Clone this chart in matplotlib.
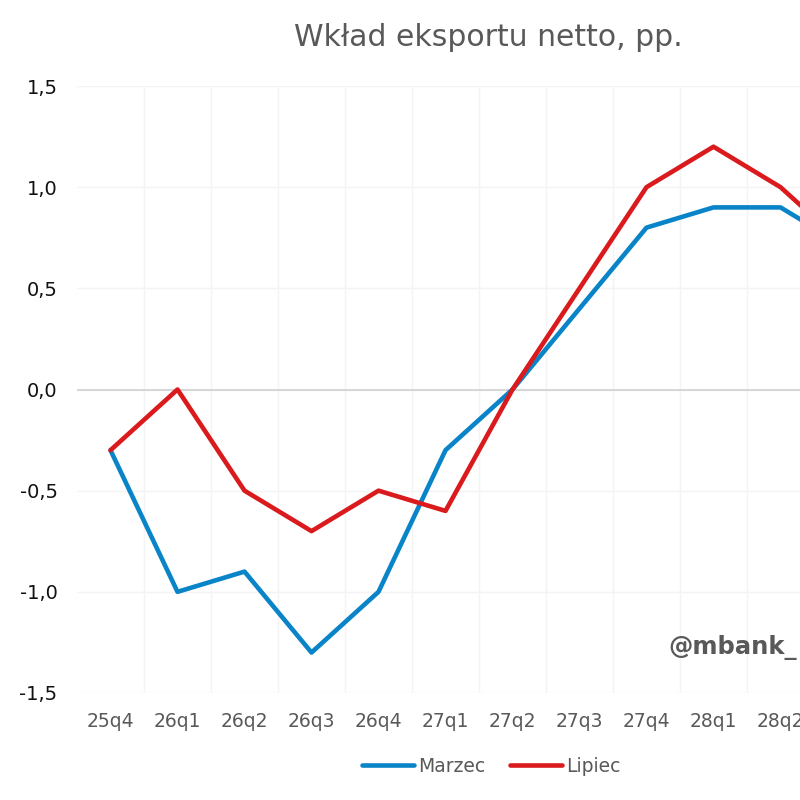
import matplotlib.pyplot as plt

kwartaly = ['25q4', '26q1', '26q2', '26q3', '26q4', '27q1', '27q2',
            '27q3', '27q4', '28q1', '28q2', '28q3']
marzec = [-0.3, -1.0, -0.9, -1.3, -1.0, -0.3, 0.0, 0.4, 0.8, 0.9, 0.9, 0.7]
lipiec = [-0.3, 0.0, -0.5, -0.7, -0.5, -0.6, 0.0, 0.5, 1.0, 1.2, 1.0, 0.7]
y_ticks = [-1.5, -1.0, -0.5, 0.0, 0.5, 1.0, 1.5]

szary = '#595959'

fig = plt.figure(figsize=(8, 8), dpi=100)
# wykres jest przyciety z prawej strony, os wychodzi poza figure
ax = fig.add_axes([77 / 800, 1 - 693 / 800, 804 / 800, 607 / 800])

x = list(range(len(kwartaly)))
ax.plot(x, marzec, color='#0a84c8', lw=3.3, label='Marzec', solid_capstyle='round')
ax.plot(x, lipiec, color='#da1a1c', lw=3.3, label='Lipiec', solid_capstyle='round')

ax.set_xlim(-0.5, len(kwartaly) - 0.5)
ax.set_ylim(-1.5, 1.5)
ax.set_yticks(y_ticks)
ax.set_yticklabels([f'{v:.1f}'.replace('.', ',') for v in y_ticks])
ax.set_xticks(x)
ax.set_xticklabels(kwartaly)
ax.set_xticks([i + 0.5 for i in x], minor=True)

ax.grid(True, which='major', axis='y', color='#f4f4f4', lw=1)
ax.grid(True, which='minor', axis='x', color='#f4f4f4', lw=1)
ax.axhline(0, color='#d0d0d0', lw=1.2, zorder=1)
ax.set_axisbelow(True)
for s in ax.spines.values():
    s.set_visible(False)
ax.tick_params(which='both', length=0)
ax.tick_params(axis='y', labelsize=14, labelcolor='#111111', pad=14)
ax.tick_params(axis='x', labelsize=13.5, labelcolor=szary, pad=14)

fig.text(488 / 800, 1 - 38 / 800, 'Wkład eksportu netto, pp.', ha='center', va='center',
         fontsize=21.5, color=szary)
fig.text(668 / 800, 1 - 648 / 800, '@mbank_', ha='left', va='center',
         fontsize=17.5, fontweight='bold', color=szary)

fig.legend(loc='center', bbox_to_anchor=(491 / 800, 1 - 766 / 800), ncol=2,
           frameon=False, fontsize=13.5, handlelength=2.8, columnspacing=1.3,
           handletextpad=0.2, labelcolor=szary)

fig.savefig('out.png', dpi=100)
